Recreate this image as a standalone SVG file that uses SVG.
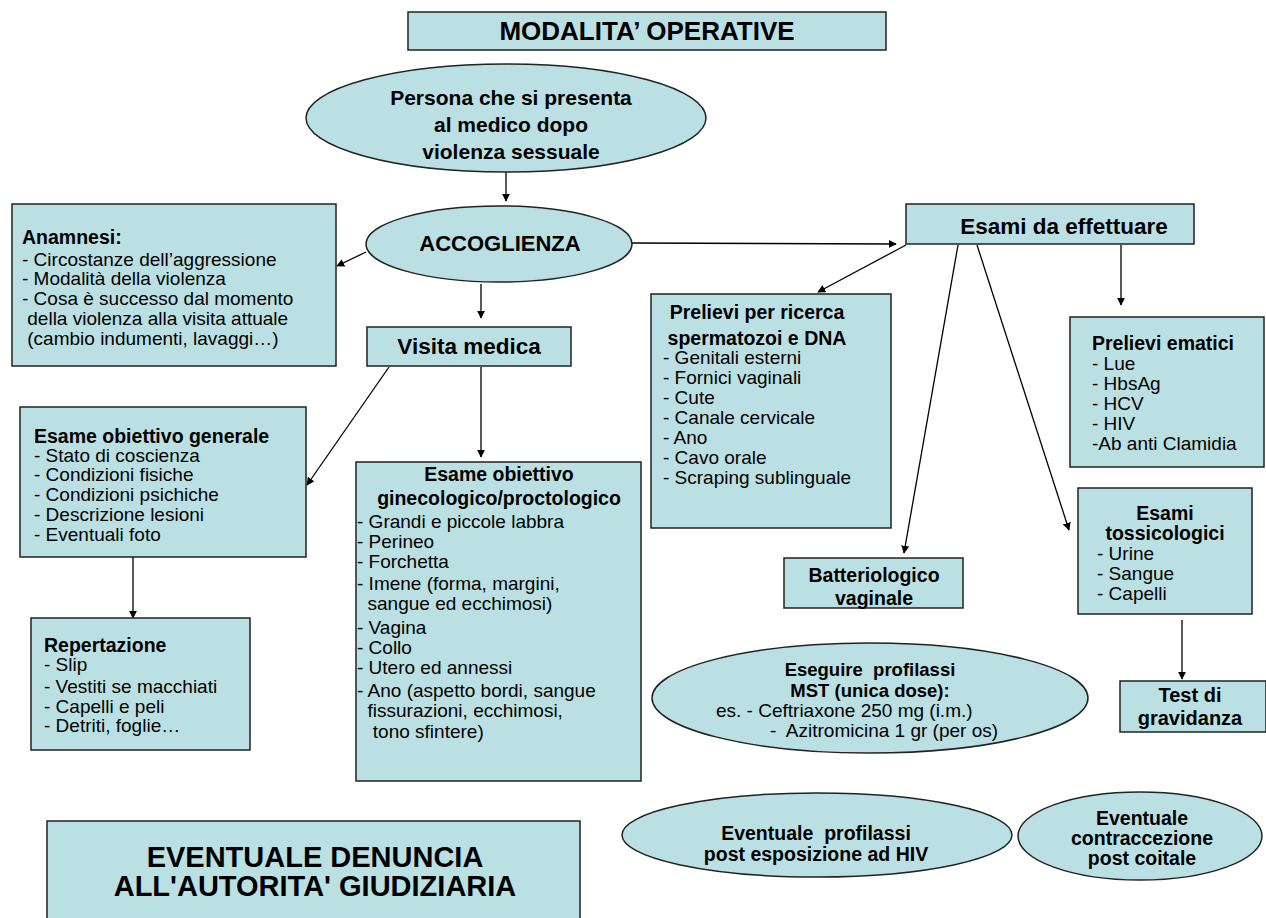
<svg xmlns="http://www.w3.org/2000/svg" width="1266" height="918" viewBox="0 0 1266 918">
<style>
.b{fill:#bbe0e3;stroke:#222;stroke-width:1.5}
text{font-family:"Liberation Sans",Arial,sans-serif;fill:#000}
.t{font-size:19px}
.bd{font-size:19.5px;font-weight:bold}
.c{text-anchor:middle}
.con line{stroke:#000;stroke-width:1.3;marker-end:url(#ah)}
</style>
<defs>
<marker id="ah" viewBox="0 0 10 10" refX="9" refY="5" markerWidth="8" markerHeight="8" markerUnits="userSpaceOnUse" orient="auto">
<path d="M0,0 L10,5 L0,10 z" fill="#000"/>
</marker>
</defs>
<rect width="1266" height="918" fill="#fff"/>

<g class="con">
<line x1="506" y1="172" x2="506" y2="201"/>
<line x1="366" y1="252" x2="337" y2="266"/>
<line x1="632" y1="243" x2="896" y2="244"/>
<line x1="481" y1="284" x2="481" y2="318"/>
<line x1="389" y1="367" x2="307" y2="485"/>
<line x1="481" y1="367" x2="481" y2="457"/>
<line x1="133" y1="557" x2="133" y2="618"/>
<line x1="906" y1="245" x2="818" y2="292"/>
<line x1="958" y1="245" x2="904" y2="553"/>
<line x1="977" y1="245" x2="1069" y2="530"/>
<line x1="1121" y1="245" x2="1121" y2="305"/>
<line x1="1182" y1="620" x2="1182" y2="679"/>
</g>

<g id="title">
<rect class="b" x="408" y="12" width="478" height="38"/>
<text class="c" x="647" y="40" style="font-size:26px;font-weight:bold">MODALITA’ OPERATIVE</text>
</g>

<g id="persona">
<ellipse class="b" cx="506" cy="118" rx="200" ry="54"/>
<text class="bd c" x="511" y="105" style="font-size:21px">Persona che si presenta</text>
<text class="bd c" x="511" y="132" style="font-size:21px">al medico dopo</text>
<text class="bd c" x="511" y="159" style="font-size:21px">violenza sessuale</text>
</g>

<g id="accoglienza">
<ellipse class="b" cx="499" cy="244" rx="133" ry="38"/>
<text class="bd c" x="500" y="251" style="font-size:22px">ACCOGLIENZA</text>
</g>

<g id="anamnesi">
<rect class="b" x="12" y="204" width="324" height="162"/>
<text class="bd" x="22" y="244">Anamnesi:</text>
<text class="t" x="22" y="266">- Circostanze dell’aggressione</text>
<text class="t" x="22" y="285">- Modalità della violenza</text>
<text class="t" x="22" y="305">- Cosa è successo dal momento</text>
<text class="t" x="22" y="325" xml:space="preserve"> della violenza alla visita attuale</text>
<text class="t" x="22" y="345" xml:space="preserve"> (cambio indumenti, lavaggi…)</text>
</g>

<g id="esami">
<rect class="b" x="906" y="204" width="288" height="40"/>
<text class="bd c" x="1064" y="234" style="font-size:22.5px">Esami da effettuare</text>
</g>

<g id="visita">
<rect class="b" x="367" y="327" width="204" height="39"/>
<text class="bd c" x="469" y="354" style="font-size:22.5px">Visita medica</text>
</g>

<g id="eog">
<rect class="b" x="20" y="407" width="286" height="150"/>
<text class="bd" x="34" y="443">Esame obiettivo generale</text>
<text class="t" x="34" y="462">- Stato di coscienza</text>
<text class="t" x="34" y="481">- Condizioni fisiche</text>
<text class="t" x="34" y="501">- Condizioni psichiche</text>
<text class="t" x="34" y="521">- Descrizione lesioni</text>
<text class="t" x="34" y="541">- Eventuali foto</text>
</g>

<g id="repertazione">
<rect class="b" x="31" y="618" width="219" height="132"/>
<text class="bd" x="44" y="652">Repertazione</text>
<text class="t" x="44" y="671">- Slip</text>
<text class="t" x="44" y="693">- Vestiti se macchiati</text>
<text class="t" x="44" y="713">- Capelli e peli</text>
<text class="t" x="44" y="732">- Detriti, foglie…</text>
</g>

<g id="egp">
<rect class="b" x="356" y="462" width="285" height="319"/>
<text class="bd c" x="499" y="481">Esame obiettivo</text>
<text class="bd c" x="499" y="505">ginecologico/proctologico</text>
<text class="t" x="357" y="528">- Grandi e piccole labbra</text>
<text class="t" x="357" y="548">- Perineo</text>
<text class="t" x="357" y="568">- Forchetta</text>
<text class="t" x="357" y="590">- Imene (forma, margini,</text>
<text class="t" x="357" y="610" xml:space="preserve">  sangue ed ecchimosi)</text>
<text class="t" x="357" y="634">- Vagina</text>
<text class="t" x="357" y="654">- Collo</text>
<text class="t" x="357" y="674">- Utero ed annessi</text>
<text class="t" x="357" y="697">- Ano (aspetto bordi, sangue</text>
<text class="t" x="357" y="717" xml:space="preserve">  fissurazioni, ecchimosi,</text>
<text class="t" x="357" y="738" xml:space="preserve">   tono sfintere)</text>
</g>

<g id="prelievi">
<rect class="b" x="651" y="294" width="240" height="234"/>
<text class="bd c" x="757" y="319">Prelievi per ricerca</text>
<text class="bd c" x="757" y="345">spermatozoi e DNA</text>
<text class="t" x="663" y="364">- Genitali esterni</text>
<text class="t" x="663" y="384">- Fornici vaginali</text>
<text class="t" x="663" y="404">- Cute</text>
<text class="t" x="663" y="424">- Canale cervicale</text>
<text class="t" x="663" y="444">- Ano</text>
<text class="t" x="663" y="464">- Cavo orale</text>
<text class="t" x="663" y="484">- Scraping sublinguale</text>
</g>

<g id="ematici">
<rect class="b" x="1070" y="317" width="194" height="150"/>
<text class="bd" x="1092" y="350">Prelievi ematici</text>
<text class="t" x="1092" y="370">- Lue</text>
<text class="t" x="1092" y="390">- HbsAg</text>
<text class="t" x="1092" y="410">- HCV</text>
<text class="t" x="1092" y="430">- HIV</text>
<text class="t" x="1092" y="450">-Ab anti Clamidia</text>
</g>

<g id="tossicologici">
<rect class="b" x="1078" y="488" width="174" height="126"/>
<text class="bd c" x="1165" y="520">Esami</text>
<text class="bd c" x="1165" y="540">tossicologici</text>
<text class="t" x="1097" y="560">- Urine</text>
<text class="t" x="1097" y="580">- Sangue</text>
<text class="t" x="1097" y="600">- Capelli</text>
</g>

<g id="gravidanza">
<rect class="b" x="1120" y="681" width="146" height="51"/>
<text class="bd c" x="1190" y="702" style="font-size:20px">Test di</text>
<text class="bd c" x="1190" y="725" style="font-size:20px">gravidanza</text>
</g>

<g id="batteriologico">
<rect class="b" x="784" y="558" width="179" height="50"/>
<text class="bd c" x="874" y="582">Batteriologico</text>
<text class="bd c" x="874" y="605">vaginale</text>
</g>

<g id="mst">
<ellipse class="b" cx="870" cy="698" rx="218" ry="55"/>
<text class="c" x="870" y="676" style="font-size:18.5px;font-weight:bold" xml:space="preserve">Eseguire  profilassi</text>
<text class="c" x="870" y="697" style="font-size:18.5px;font-weight:bold">MST (unica dose):</text>
<text class="t" x="716" y="717">es. - Ceftriaxone 250 mg (i.m.)</text>
<text class="t" x="770" y="737" xml:space="preserve">-  Azitromicina 1 gr (per os)</text>
</g>

<g id="hiv">
<ellipse class="b" cx="817" cy="835" rx="195" ry="42"/>
<text class="bd c" x="816" y="840" xml:space="preserve">Eventuale  profilassi</text>
<text class="bd c" x="816" y="861">post esposizione ad HIV</text>
</g>

<g id="contraccezione">
<ellipse class="b" cx="1140" cy="836" rx="122" ry="44"/>
<text class="bd c" x="1142" y="825">Eventuale</text>
<text class="bd c" x="1142" y="845">contraccezione</text>
<text class="bd c" x="1142" y="865">post coitale</text>
</g>

<g id="denuncia">
<rect class="b" x="47" y="821" width="533" height="110"/>
<text class="bd c" x="315" y="867" style="font-size:29px">EVENTUALE DENUNCIA</text>
<text class="bd c" x="315" y="896" style="font-size:29px">ALL'AUTORITA' GIUDIZIARIA</text>
</g>
</svg>
